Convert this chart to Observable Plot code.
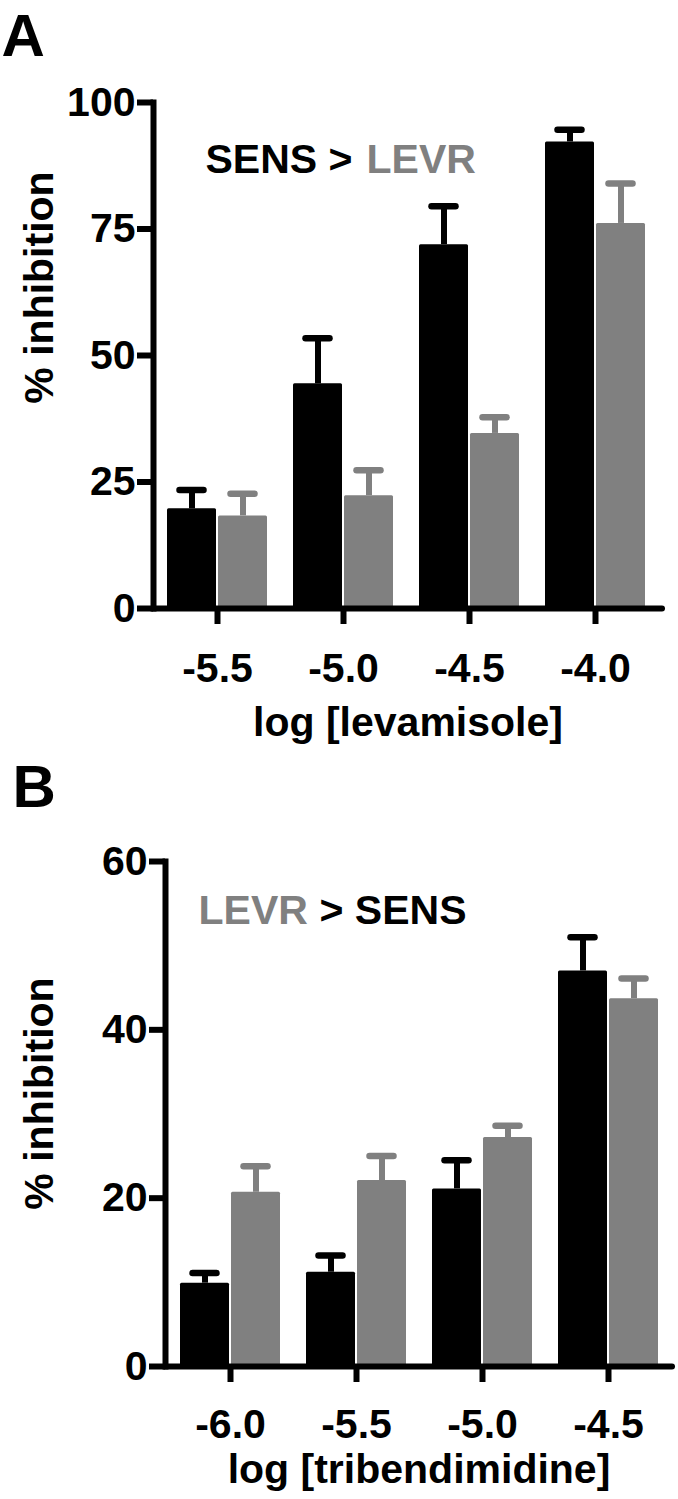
<!DOCTYPE html>
<html>
<head>
<meta charset="utf-8">
<script src="https://cdn.jsdelivr.net/npm/d3@7"></script>
<script src="https://cdn.jsdelivr.net/npm/@observablehq/plot@0.6"></script>
<style>
  body { margin: 0; background: #fff; }
  #chart svg { display: block; }
</style>
</head>
<body>
<div id="chart"></div>
<script>
// ---- Data ----
const concA = ["-5.5", "-5.0", "-4.5", "-4.0"];
const sensA = [19.7, 44.4, 71.9, 92.2];
const sensAerr = [23.4, 53.4, 79.5, 94.6];
const levrA = [18.3, 22.3, 34.6, 76.1];
const levrAerr = [22.7, 27.3, 37.8, 84.0];
const yTicksA = [0, 25, 50, 75, 100];

const concB = ["-6.0", "-5.5", "-5.0", "-4.5"];
const sensB = [9.9, 11.2, 21.1, 47.0];
const sensBerr = [11.1, 13.2, 24.5, 51.0];
const levrB = [20.7, 22.1, 27.2, 43.7];
const levrBerr = [23.8, 25.0, 28.6, 46.1];
const yTicksB = [0, 20, 40, 60];

const BLACK = "#000000";
const GRAY = "#808080";
const FONT = "'Liberation Sans', Arial, Helvetica, sans-serif";

function panel(o) {
  const S = o.conc.map((c, i) => ({conc: c, value: o.sens[i], err: o.sensErr[i]}));
  const L = o.conc.map((c, i) => ({conc: c, value: o.levr[i], err: o.levrErr[i]}));
  return Plot.plot({
    width: 678,
    height: o.height,
    marginTop: o.marginTop,
    marginBottom: o.marginBottom,
    marginLeft: o.marginLeft,
    marginRight: o.marginRight,
    style: {fontFamily: FONT, fontWeight: "bold", fontSize: "41px", color: BLACK, background: "#fff", overflow: "visible"},
    x: {domain: o.conc, paddingInner: 0.21, paddingOuter: o.paddingOuter, align: o.align},
    y: {domain: [0, o.yMax]},
    marks: [
      // error bars (upper only)
      Plot.ruleX(S, {x: "conc", y1: "value", y2: "err", dx: -25.5, stroke: BLACK, strokeWidth: 6}),
      Plot.ruleX(L, {x: "conc", y1: "value", y2: "err", dx: 25.5, stroke: GRAY, strokeWidth: 6}),
      Plot.tickY(S, {x: "conc", y: "err", insetLeft: 12.5, insetRight: 63.5, stroke: BLACK, strokeWidth: 6.5, strokeLinecap: "round"}),
      Plot.tickY(L, {x: "conc", y: "err", insetLeft: 63.5, insetRight: 12.5, stroke: GRAY, strokeWidth: 6.5, strokeLinecap: "round"}),
      // bars
      Plot.barY(S, {x: "conc", y: "value", fill: BLACK, insetRight: 51, rx: 1.5}),
      Plot.barY(L, {x: "conc", y: "value", fill: GRAY, insetLeft: 51, rx: 1.5}),
      // axes
      Plot.frame({anchor: "left", stroke: BLACK, strokeWidth: 6}),
      Plot.ruleY([0], {stroke: BLACK, strokeWidth: 6, strokeLinecap: "round"}),
      Plot.axisY({ticks: o.yTicks, tickSize: 16, tickPadding: 2, strokeWidth: 6, label: null, fontSize: 41}),
      Plot.axisX({tickSize: 16, tickPadding: o.xTickPadding, strokeWidth: 6, label: null, fontSize: 41}),
      // panel letter
      Plot.text([o.letter], {frameAnchor: "top-left", dx: o.letterX - o.marginLeft, dy: o.letterBase - o.marginTop,
        textAnchor: "start", lineAnchor: "bottom", fontSize: 60, fontWeight: "bold", fill: BLACK}),
      // annotation (two colours)
      ...o.note.map(n => Plot.text([n.t], {frameAnchor: "top-left", dx: n.x - o.marginLeft, dy: o.noteBase - o.marginTop,
        textAnchor: "start", lineAnchor: "bottom", fontSize: 41, fontWeight: "bold", fill: n.c})),
      // y label
      Plot.text(["% inhibition"], {frameAnchor: "top-left", dx: 52 - o.marginLeft, dy: o.yLabelCenter - o.marginTop,
        rotate: -90, textAnchor: "middle", lineAnchor: "bottom", fontSize: 41, fontWeight: "bold", fill: BLACK}),
      // x label
      Plot.text([o.xLabel], {frameAnchor: "bottom", dy: o.xLabelDy, lineAnchor: "bottom", fontSize: 41, fontWeight: "bold", fill: BLACK})
    ]
  });
}

const chart = document.getElementById("chart");

chart.appendChild(panel({
  conc: concA, sens: sensA, sensErr: sensAerr, levr: levrA, levrErr: levrAerr,
  yMax: 100, yTicks: yTicksA, height: 750,
  marginTop: 102, marginBottom: 142, marginLeft: 153, marginRight: 16,
  paddingOuter: 0.11, align: 0.46, xTickPadding: 28,
  letter: "A", letterX: 1, letterBase: 55,
  note: [{t: "SENS >", c: BLACK, x: 205}, {t: "LEVR", c: GRAY, x: 366}], noteBase: 172,
  yLabelCenter: 287,
  xLabel: "log [levamisole]", xLabelDy: 127
}));

chart.appendChild(panel({
  conc: concB, sens: sensB, sensErr: sensBerr, levr: levrB, levrErr: levrBerr,
  yMax: 60, yTicks: yTicksB, height: 749,
  marginTop: 111, marginBottom: 133, marginLeft: 165, marginRight: 6,
  paddingOuter: 0.102, align: 0.5, xTickPadding: 26,
  letter: "B", letterX: 12, letterBase: 56,
  note: [{t: "LEVR", c: GRAY, x: 198}, {t: "> SENS", c: BLACK, x: 319}], noteBase: 173,
  yLabelCenter: 343,
  xLabel: "log [tribendimidine]", xLabelDy: 116
}));
</script>
</body>
</html>
